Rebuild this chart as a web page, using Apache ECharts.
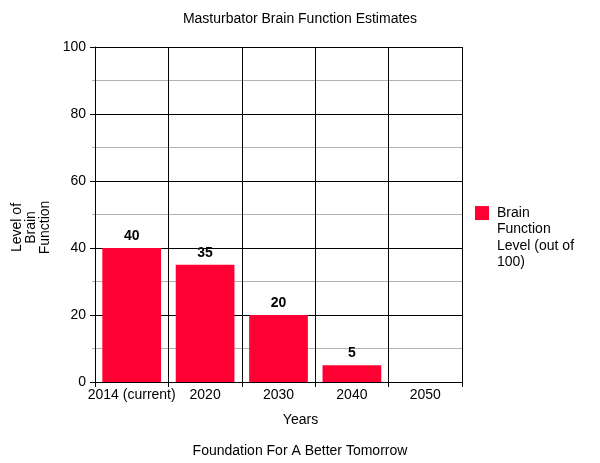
<!DOCTYPE html>
<html>
<head>
<meta charset="utf-8">
<script src="https://cdn.jsdelivr.net/npm/echarts@6/dist/echarts.min.js"></script>
<style>html,body{margin:0;padding:0;background:#fff}#c{width:600px;height:463px}</style>
</head>
<body>
<div id="c"></div>
<script>
const categories = ['2014 (current)', '2020', '2030', '2040', '2050'];
const brainValues = [40, 35, 20, 5, 0];
const seriesName = 'Brain\nFunction\nLevel (out of\n100)';
const yTicks = [0, 20, 40, 60, 80, 100];

const chart = echarts.init(document.getElementById('c'), null, {renderer: 'canvas'});
const font = 'Liberation Sans, Arial, sans-serif';
chart.setOption({
  animation: false,
  textStyle: {fontFamily: font},
  title: [
    {text: 'Masturbator Brain Function Estimates', left: 'center', top: 12, padding: 0,
     textStyle: {fontSize: 14, fontWeight: 'normal', color: '#000', fontFamily: font}},
    {text: 'Foundation For A Better Tomorrow', left: 'center', top: 444, padding: 0,
     textStyle: {fontSize: 14, fontWeight: 'normal', color: '#000', fontFamily: font}}
  ],
  grid: {left: 95, right: 138, top: 47, bottom: 81, containLabel: false, outerBoundsMode: 'none'},
  legend: {
    left: 475, top: 155, orient: 'vertical', padding: 0,
    itemWidth: 14, itemHeight: 14, itemGap: 8,
    icon: 'rect',
    formatter: n => '\n\n\n' + n,
    textStyle: {fontSize: 14, color: '#000', lineHeight: 16.3, padding: [2, 0, 0, 3], fontFamily: font}
  },
  xAxis: {
    type: 'category', data: categories,
    name: 'Years', nameLocation: 'middle', nameGap: 31,
    nameTextStyle: {fontSize: 14, color: '#000', padding: [0, 0, 0, 44], fontFamily: font},
    axisLine: {lineStyle: {color: '#000', width: 1}},
    axisTick: {show: true, length: 5, alignWithLabel: false, lineStyle: {color: '#000'}},
    axisLabel: {fontSize: 14, color: '#000', margin: 6, interval: 0, fontFamily: font},
    splitLine: {show: true, lineStyle: {color: '#000', width: 1}}
  },
  yAxis: {
    type: 'value', min: 0, max: 100, interval: 20,
    name: 'Level of\nBrain\nFunction', nameLocation: 'middle', nameRotate: 90, nameGap: 43,
    nameTextStyle: {fontSize: 14, color: '#000', lineHeight: 14, padding: [0, 26, 0, 0], fontFamily: font},
    axisLine: {show: true, lineStyle: {color: '#000', width: 1}},
    axisTick: {show: true, length: 5, lineStyle: {color: '#000'}},
    minorTick: {show: true, splitNumber: 2, length: 3, lineStyle: {color: '#b3b3b3'}},
    axisLabel: {fontSize: 14, color: '#000', margin: 9, fontFamily: font},
    splitLine: {show: true, lineStyle: {color: '#000', width: 1}},
    minorSplitLine: {show: true, lineStyle: {color: '#b3b3b3', width: 1}}
  },
  series: [{
    name: seriesName, type: 'bar', data: brainValues,
    barCategoryGap: '20%',
    itemStyle: {color: '#ff0033'},
    label: {show: true, position: 'top', distance: 5, fontSize: 14, fontWeight: 'bold', color: '#000',
            fontFamily: font, formatter: p => p.value === 0 ? '' : p.value}
  }]
});
</script>
</body>
</html>
